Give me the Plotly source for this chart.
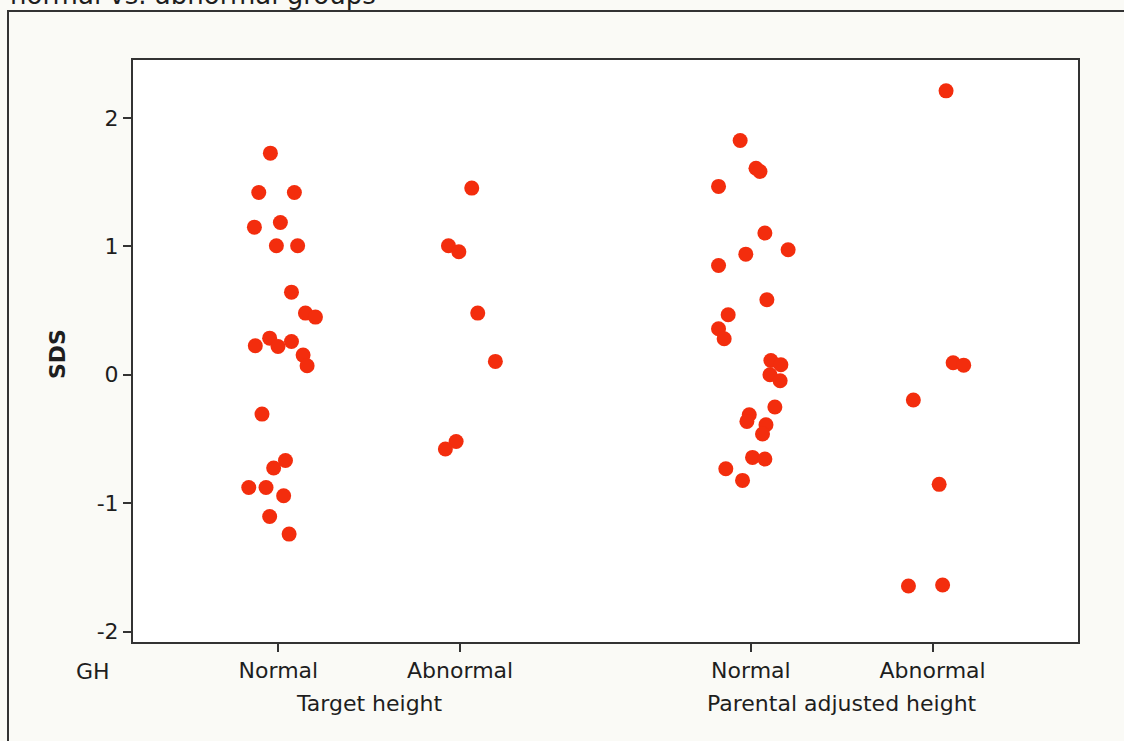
import plotly.graph_objects as go

# SDS values per group
th_normal = [1.725, 1.419, 1.419, 1.149, 1.185, 1.004, 1.004, 0.643, 0.480, 0.449,
             0.226, 0.285, 0.220, 0.259, 0.153, 0.070, -0.306, -0.667, -0.726,
             -0.877, -0.877, -0.942, -1.103, -1.240]
th_abnormal = [1.453, 1.004, 0.957, 0.480, 0.104, -0.519, -0.578]
pah_normal = [1.823, 1.608, 1.582, 1.466, 1.103, 0.973, 0.939, 0.851, 0.584, 0.467,
              0.358, 0.280, 0.111, 0.078, 0.000, -0.047, -0.251, -0.311, -0.363,
              -0.389, -0.461, -0.643, -0.656, -0.732, -0.822]
pah_abnormal = [2.210, 0.093, 0.075, -0.196, -0.853, -1.644, -1.636]

# horizontal jitter of each point around its category
th_normal_jit = [-0.044, -0.108, 0.088, -0.132, 0.011, -0.011, 0.106, 0.072, 0.149, 0.204,
                 -0.127, -0.048, -0.002, 0.072, 0.136, 0.158, -0.090, 0.039, -0.026,
                 -0.163, -0.068, 0.029, -0.048, 0.059]
th_abnormal_jit = [0.064, -0.064, -0.007, 0.097, 0.194, -0.022, -0.081]
pah_normal_jit = [-0.059, 0.028, 0.050, -0.178, 0.077, 0.205, -0.028, -0.178, 0.088, -0.125,
                  -0.178, -0.147, 0.110, 0.165, 0.105, 0.161, 0.132, -0.009, -0.022,
                  0.083, 0.064, 0.009, 0.077, -0.138, -0.046]
pah_abnormal_jit = [0.074, 0.113, 0.171, -0.106, 0.036, -0.133, 0.055]

gh_labels = ["Normal", "Abnormal", "Normal", "Abnormal"]
group_labels = ["Target height", "Parental adjusted height"]
y_ticks = [-2, -1, 0, 1, 2]

cat_pos = [1.0, 2.0, 3.6, 4.6]
groups = [(th_normal, th_normal_jit), (th_abnormal, th_abnormal_jit),
          (pah_normal, pah_normal_jit), (pah_abnormal, pah_abnormal_jit)]

FONT = "DejaVu Sans"
DOT = "#F32D0D"
INK = "#1E1E1E"

fig = go.Figure()
for pos, (vals, jit) in zip(cat_pos, groups):
    fig.add_trace(go.Scatter(
        x=[pos + j for j in jit], y=vals, mode="markers",
        marker=dict(size=15, color=DOT, line=dict(width=0)),
        showlegend=False, hoverinfo="y",
    ))

fig.update_layout(
    width=1124, height=741,
    margin=dict(l=133, r=46, t=60, b=99),
    paper_bgcolor="#FAFAF6", plot_bgcolor="#FFFFFF",
    font=dict(family=FONT, size=22, color=INK),
    xaxis=dict(range=[0.2, 5.4], tickmode="array", tickvals=cat_pos, ticktext=gh_labels,
               showgrid=False, zeroline=False, showline=True, linecolor="#333333",
               linewidth=2, mirror=True, ticks="outside", ticklen=8, tickwidth=1.5,
               tickcolor="#333333", tickfont=dict(size=22)),
    yaxis=dict(range=[-2.08, 2.45], tickmode="array", tickvals=y_ticks,
               ticktext=[str(v) for v in y_ticks],
               showgrid=False, zeroline=False, showline=True, linecolor="#333333",
               linewidth=2, mirror=True, ticks="outside", ticklen=8, tickwidth=1.5,
               tickcolor="#333333", tickfont=dict(size=22)),
)

annotations = [
    dict(text="GH", xref="paper", yref="paper", x=(93 - 133) / 945, y=-(671 - 642) / 582,
         xanchor="center", yanchor="middle", showarrow=False, font=dict(size=22)),
    dict(text="<b>SDS</b>", xref="paper", yref="paper", x=(57 - 133) / 945,
         y=(642 - 354) / 582, xanchor="center", yanchor="middle", textangle=-90,
         showarrow=False, font=dict(size=22, family=FONT)),
    dict(text="normal vs. abnormal groups", xref="paper", yref="paper",
         x=(8 - 133) / 945, y=1 + (60 - 12) / 582, xanchor="left", yanchor="bottom",
         showarrow=False, font=dict(size=26)),
]
for i, lab in enumerate(group_labels):
    mid = (cat_pos[2 * i] + cat_pos[2 * i + 1]) / 2
    annotations.append(dict(text=lab, xref="x", yref="paper", x=mid,
                            y=-(703 - 642) / 582, xanchor="center", yanchor="middle",
                            showarrow=False, font=dict(size=22)))
fig.update_layout(annotations=annotations)

# outer frame around the whole graphic
fig.add_shape(type="rect", xref="paper", yref="paper",
              x0=(8 - 133) / 945, x1=1.2, y0=-0.5, y1=1 + (60 - 11) / 582,
              line=dict(color="#333333", width=2), fillcolor="rgba(0,0,0,0)", layer="below")

fig.write_html("out.html")
